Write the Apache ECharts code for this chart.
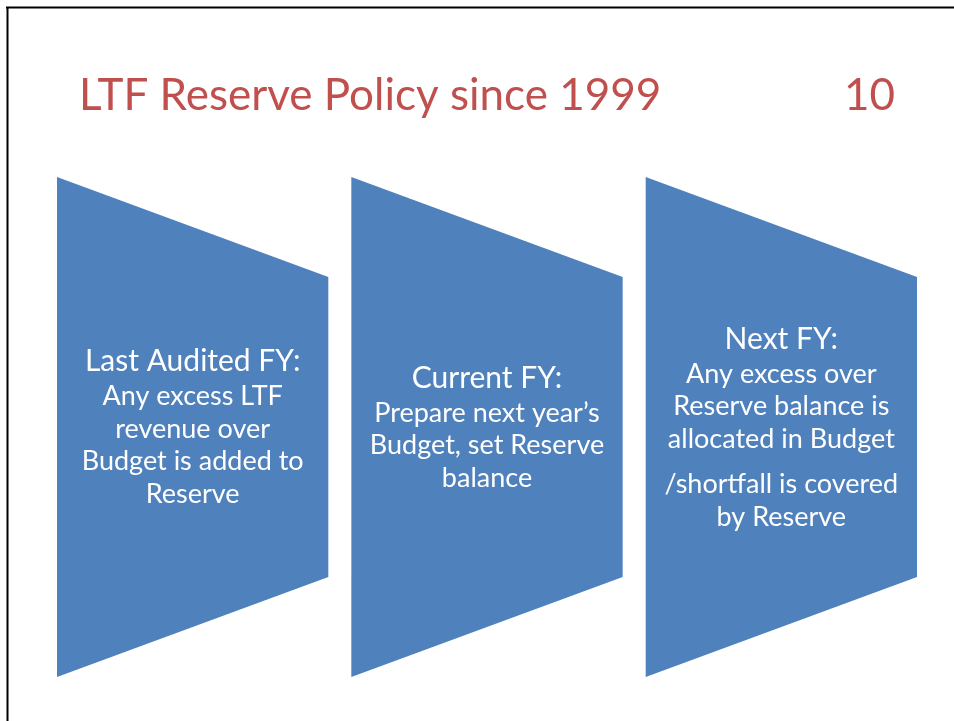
<!DOCTYPE html>
<html>
<head>
<meta charset="utf-8">
<script src="https://cdn.jsdelivr.net/npm/echarts@6/dist/echarts.min.js"></script>
<style>
html,body{margin:0;padding:0;background:#fff;}
#chart{width:954px;height:721px;}
</style>
</head>
<body>
<div id="chart"></div>
<script>
// ---- data ----
var slideTitle = 'LTF Reserve Policy since 1999';
var slideNumber = '10';
var stageHeaders = ['Last Audited FY:', 'Current FY:', 'Next FY:'];
var stageBody1 = ['Any excess LTF', 'revenue over', 'Budget is added to', 'Reserve'];
var stageBody2 = ['Prepare next year\u2019s', 'Budget, set Reserve', 'balance'];
var stageBody3 = ['Any excess over', 'Reserve balance is', 'allocated in Budget', '', '/shortfall is covered', 'by Reserve'];
var stageBodies = [stageBody1, stageBody2, stageBody3];

// ---- layout constants ----
var SHAPE_W = 271, GAP = 23;
var wFrac = SHAPE_W / (SHAPE_W + GAP);
var FONT = 'Lato, "Open Sans", sans-serif';
var HEAD_SIZE = 30, BODY_SIZE = 27;
var STEP_HEAD = 35, STEP_BODY = 32.5, STEP_PARA = 13;

var chart = echarts.init(document.getElementById('chart'), null, {renderer: 'canvas'});

function renderItem(params, api) {
  var i = api.value(0);
  var tl = api.coord([i, 1]);
  var tr = api.coord([i + wFrac, 0.8]);
  var br = api.coord([i + wFrac, 0.2]);
  var bl = api.coord([i, 0]);
  var cx = (tl[0] + tr[0]) / 2;
  var cy = (tl[1] + bl[1]) / 2 + 1;
  var lines = [{t: stageHeaders[params.dataIndex], h: true}];
  stageBodies[params.dataIndex].forEach(function (l) { lines.push({t: l, h: false}); });
  var ys = [0];
  var y = 0;
  for (var k = 1; k < lines.length; k++) {
    if (lines[k].t === '') { y += STEP_PARA; ys.push(null); continue; }
    y += (k === 1) ? STEP_HEAD : STEP_BODY;
    ys.push(y);
  }
  var total = y;
  var children = [{
    type: 'polygon',
    shape: {points: [tl, tr, br, bl]},
    style: {fill: '#4F81BD', stroke: null}
  }];
  lines.forEach(function (ln, k) {
    if (ys[k] === null) return;
    children.push({
      type: 'text',
      style: {
        text: ln.t,
        x: cx,
        y: cy - total / 2 + ys[k],
        fill: '#ffffff',
        fontSize: ln.h ? HEAD_SIZE : BODY_SIZE,
        fontFamily: FONT,
        align: 'center',
        verticalAlign: 'middle'
      }
    });
  });
  return {type: 'group', children: children};
}

var option = {
  backgroundColor: '#ffffff',
  animation: false,
  title: [{
    text: slideTitle,
    left: 74,
    top: 69,
    textStyle: {color: '#C0504D', fontSize: 44, fontWeight: 'normal', fontFamily: FONT}
  }, {
    text: slideNumber,
    right: 54,
    top: 69,
    textStyle: {color: '#C0504D', fontSize: 44, fontWeight: 'normal', fontFamily: FONT}
  }],
  grid: {left: 57, right: 37, top: 177, bottom: 44},
  xAxis: {type: 'value', min: 0, max: 2 + wFrac, show: false},
  yAxis: {type: 'value', min: 0, max: 1, show: false},
  graphic: [
    {type: 'line', shape: {x1: 6, y1: 7.5, x2: 954, y2: 7.5}, style: {stroke: '#000', lineWidth: 2}},
    {type: 'line', shape: {x1: 7.5, y1: 7, x2: 7.5, y2: 721}, style: {stroke: '#000', lineWidth: 2}}
  ],
  series: [{
    type: 'custom',
    renderItem: renderItem,
    data: stageHeaders.map(function (h, i) { return [i]; }),
    silent: true
  }]
};
chart.setOption(option);
</script>
</body>
</html>
